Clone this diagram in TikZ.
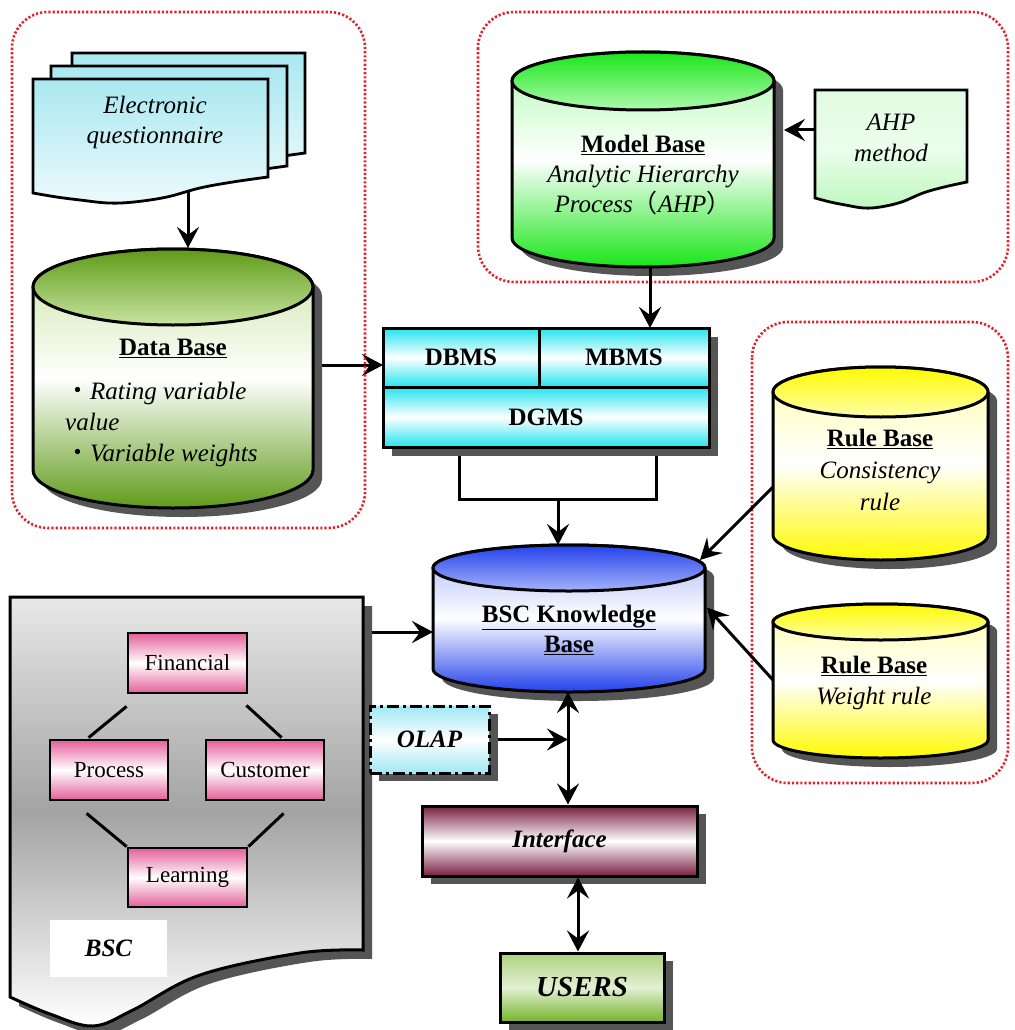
\documentclass[tikz,border=0pt]{standalone}
\usepackage{fontspec}
\setmainfont{Liberation Serif}
\newfontfamily\cjk{Noto Sans CJK SC}
\usetikzlibrary{arrows.meta,calc,shadows}
\pgfdeclarelayer{under}
\pgfsetlayers{under,main}

\definecolor{redd}{RGB}{225,35,45}
\definecolor{shadowg}{RGB}{85,85,85}
\definecolor{dbdark}{RGB}{95,155,25}
\definecolor{dblight}{RGB}{200,228,160}
\definecolor{mbdark}{RGB}{25,230,25}
\definecolor{mblight}{RGB}{175,250,175}
\definecolor{rbdark}{RGB}{255,250,0}
\definecolor{rblight}{RGB}{255,255,170}
\definecolor{kbdark}{RGB}{35,65,235}
\definecolor{kblight}{RGB}{165,180,250}
\definecolor{cyanc}{RGB}{35,228,238}
\definecolor{qcyan}{RGB}{170,232,240}
\definecolor{qlight}{RGB}{235,250,252}
\definecolor{ahpg}{RGB}{190,248,190}
\definecolor{pinkc}{RGB}{228,95,155}
\definecolor{maroonc}{RGB}{120,30,65}
\definecolor{usersg}{RGB}{115,180,40}
\definecolor{olapc}{RGB}{160,232,245}

% cylinder: #1 xL, #2 xR, #3 top ellipse centre y (px), #4 bottom ellipse centre y, #5 ry, #6 dark, #7 light
\newcommand{\mycyl}[7]{%
  \pgfmathsetmacro\cxr{(#2-#1)/2}%
  \pgfmathsetmacro\ccx{(#1+#2)/2}%
  \fill[shadowg,shift={(9,-9)}] (#1,-#3) -- (#1,-#4) arc[start angle=180,end angle=360,x radius=\cxr,y radius=#5] -- (#2,-#3) arc[start angle=0,end angle=180,x radius=\cxr,y radius=#5] -- cycle;
  \path[draw=black,line width=3pt,top color=#7,bottom color=#6,middle color=white] (#1,-#3) -- (#1,-#4) arc[start angle=180,end angle=360,x radius=\cxr,y radius=#5] -- (#2,-#3) arc[start angle=0,end angle=180,x radius=\cxr,y radius=#5] -- cycle;
  \path[draw=black,line width=3pt,top color=#6,bottom color=#7] (\ccx,-#3) ellipse [x radius=\cxr,y radius=#5];
}
% document with wavy bottom: #1 style, #2 x1, #3 x2, #4 top y, #5 right bottom y
\newcommand{\mydoc}[5]{%
  \pgfmathsetmacro\dw{#3-#2}%
  \path[#1] (#2,-#4) -- (#3,-#4) -- (#3,-#5) -- plot[smooth,tension=0.6] coordinates {(#3,-#5) ({#2+0.85*\dw},{-#5-5}) ({#2+0.71*\dw},{-#5-11}) ({#2+0.57*\dw},{-#5-20}) ({#2+0.43*\dw},{-#5-25}) ({#2+0.32*\dw},{-#5-26}) ({#2+0.2*\dw},{-#5-23}) ({#2+0.1*\dw},{-#5-20}) (#2,{-#5-16})} -- cycle;
}

\begin{document}
\begin{tikzpicture}[x=1pt,y=1pt,
  >={Stealth[length=21pt,width=22pt,inset=8pt]},
  area/.style={inner sep=0pt,outer sep=0pt},
  conn/.style={line width=3pt,->},
  biconn/.style={line width=3pt,<->},
  plain/.style={line width=3pt},
  group/.style={draw=redd,line width=2.6pt,dash pattern=on 2.2pt off 2pt,rounded corners=36pt},
  txt/.style={inner sep=0pt,align=center,font=\fontsize{25}{30}\selectfont},
  sheet/.style={draw=black,line width=2.8pt,top color=qcyan,bottom color=qlight},
  cell/.style={draw=black,line width=3pt,top color=cyanc,bottom color=cyanc,middle color=white,inner sep=0pt,font=\fontsize{25}{30}\selectfont\bfseries},
  pinkbox/.style={draw=black,line width=2.8pt,top color=pinkc,bottom color=pinkc,middle color=white,inner sep=0pt,font=\fontsize{23}{27}\selectfont},
  shad/.style={drop shadow={shadow xshift=9pt,shadow yshift=-8pt,fill=shadowg,opacity=1}},
  olapst/.style={draw=black,line width=3pt,dash pattern=on 12pt off 4pt on 3pt off 4pt,top color=olapc,bottom color=olapc,middle color=white,inner sep=0pt,font=\fontsize{25}{30}\selectfont\bfseries\itshape,shad},
  intfst/.style={draw=black,line width=3pt,top color=maroonc,bottom color=maroonc,middle color=white,inner sep=0pt,font=\fontsize{25}{30}\selectfont\bfseries\itshape,shad},
  usersst/.style={draw=black,line width=3pt,top color=usersg!60!white,bottom color=usersg,middle color=usersg!20!white,inner sep=0pt,font=\fontsize{29}{34}\selectfont\bfseries\itshape,shad}
]
\useasboundingbox (0,0) rectangle (1014,-1030);

% groups
\draw[group] (12,-12) rectangle (365,-528);
\draw[group] (478,-12) rectangle (1008,-282);
\draw[group] (752,-322) rectangle (1008,-783);

% electronic questionnaire
\mydoc{sheet}{72}{305}{53}{153}
\mydoc{sheet}{51}{287}{66}{166}
\mydoc{sheet}{33}{268}{79}{177}
\node[area,minimum width=235pt,minimum height=114pt] (q) at (150.5,-136) {};
\node[txt,font=\fontsize{25}{30}\selectfont\itshape] (qtxt) at (155,-122) {Electronic\\questionnaire};

% data base
\mycyl{33}{313}{287}{470}{38}{dbdark}{dblight}
\node[area,minimum width=280pt,minimum height=260pt] (db) at (173,-378) {};
\node[txt] (dbhead) at (173,-348) {\underline{\textbf{Data Base}}};
\node[txt,align=left,anchor=west,font=\fontsize{25}{31}\selectfont] (dblist) at (65,-424) {{\cjk ・}\textit{Rating variable}\\\textit{value}\\{\cjk ・}\textit{Variable weights}};

% model base
\mycyl{512}{774}{81}{238}{29}{mbdark}{mblight}
\node[area,minimum width=262pt,minimum height=215pt] (mb) at (643,-159.5) {};
\node[txt] (mbtxt) at (643,-175) {\underline{\textbf{Model Base}}\\\textit{Analytic Hierarchy}\\\textit{Process}{\cjk （}\textit{AHP}{\cjk ）}};

% AHP method
\mydoc{draw=black,line width=2.8pt,top color=ahpg!45!white,bottom color=ahpg,middle color=ahpg!30!white}{815}{967}{90}{182}
\node[area,minimum width=152pt,minimum height=118pt] (ahp) at (891,-149) {};
\node[txt,font=\fontsize{25}{31}\selectfont\itshape] (ahptxt) at (891,-137.5) {AHP\\method};

% DBMS / MBMS / DGMS
\fill[shadowg] (392,-337) rectangle (718,-456);
\node[cell,minimum width=156pt,minimum height=59pt] (dbms) at (461,-357.5) {DBMS};
\node[cell,minimum width=170pt,minimum height=59pt] (mbms) at (624,-357.5) {MBMS};
\node[cell,minimum width=326pt,minimum height=60pt] (dgms) at (546,-417) {DGMS};
\node[area,minimum width=326pt,minimum height=119pt] (box) at (546,-387.5) {};

% rule bases
\mycyl{773}{988}{392}{535}{25}{rbdark}{rblight}
\node[area,minimum width=215pt,minimum height=193pt] (rb1) at (880.5,-463.5) {};
\node[txt,font=\fontsize{25}{32}\selectfont] (rb1txt) at (880,-470) {\underline{\textbf{Rule Base}}\\\textit{Consistency}\\\textit{rule}};
\mycyl{773}{988}{622}{740}{18}{rbdark}{rblight}
\node[area,minimum width=215pt,minimum height=153pt] (rb2) at (880.5,-681.5) {};
\node[txt,font=\fontsize{25}{31}\selectfont] (rb2txt) at (874,-682.5) {\underline{\textbf{Rule Base}}\\\textit{Weight rule}};

% BSC knowledge base
\mycyl{433}{705}{568}{669}{23}{kbdark}{kblight}
\node[area,minimum width=272pt,minimum height=147pt] (kb) at (569,-618.5) {};
\node[txt] (kbtxt) at (569,-630) {\underline{\textbf{BSC Knowledge}}\\\underline{\textbf{Base}}};

% BSC document
\fill[shadowg,shift={(9,-9)}] (10,-597) -- (363,-597) -- (363,-950) -- plot[smooth,tension=0.6] coordinates {(363,-950) (300,-953) (200,-975) (133,-1010) (93,-1026) (50,-1014) (10,-997)} -- cycle;
\path[draw=black,line width=3pt,top color=gray!18,bottom color=white,middle color=gray!72] (10,-597) -- (363,-597) -- (363,-950) -- plot[smooth,tension=0.6] coordinates {(363,-950) (300,-953) (200,-975) (133,-1010) (93,-1026) (50,-1014) (10,-997)} -- cycle;
\node[area,minimum width=353pt,minimum height=400pt] (bsc) at (186.5,-797) {};
\node[fill=white,inner sep=0pt,minimum width=117pt,minimum height=57pt,font=\fontsize{25}{30}\selectfont\bfseries\itshape] (bsclbl) at (108.5,-948.5) {BSC};
\node[pinkbox,minimum width=119pt,minimum height=60pt] (fin) at (187.5,-663) {Financial};
\node[pinkbox,minimum width=118pt,minimum height=60pt] (proc) at (109,-770) {Process};
\node[pinkbox,minimum width=118pt,minimum height=60pt] (cust) at (265,-770) {Customer};
\node[pinkbox,minimum width=119pt,minimum height=59pt] (learn) at (187.5,-877.5) {Learning};
\draw[plain] ($(fin.south west)+(0,-12)$) -- ($(proc.north west)+(40,1)$);
\draw[plain] ($(fin.south east)+(-2,-11)$) -- ($(cust.north west)+(77,1)$);
\draw[plain] ($(proc.south west)+(38,-12)$) -- (learn.north west);
\draw[plain] ($(cust.south west)+(79,-12)$) -- (learn.north east);

% OLAP, Interface, USERS
\node[olapst,minimum width=119pt,minimum height=67pt] (olap) at (429.5,-739.5) {OLAP\hspace{22pt}};
\node[intfst,minimum width=275pt,minimum height=70pt] (intf) at (559.5,-841) {Interface};
\node[usersst,minimum width=164pt,minimum height=69pt] (users) at (582,-987.5) {USERS};

% helper coordinates
\coordinate (mbout) at ($(mb.south)+(7,0)$);
\coordinate (brL) at (459,-499);
\coordinate (brR) at (656,-499);
\coordinate (brM) at (558,-499);
\coordinate (vl) at ($(kb.south)+(-1,0)$);
\coordinate (ul) at ($(users.north)+(-4,0)$);

% connectors whose start is hidden behind shapes
\begin{pgfonlayer}{under}
\fill[white] (0,0) rectangle (1014,-1030);
\draw[conn] ($(q.south)+(37.5,12)$) -- ($(db.north)+(15,0)$);
\draw[conn] (db.east |- 0,-365) -- (box.west |- 0,-365);
\draw[plain] (box.south -| brL) -- (brL) -- (brR) -- (box.south -| brR);
\draw[conn] (olap.east) -- (olap.east -| vl);
\draw[conn] (bsc.east |- 0,-632) -- (kb.west |- 0,-632);
\end{pgfonlayer}

% connectors on top
\draw[conn] (mbout) -- (box.north -| mbout);
\draw[conn] (ahp.west |- 0,-130) -- ($(mb.east |- 0,-130)+(10,0)$);
\draw[conn] (brM) -- (kb.north -| brM);
\draw[conn] (rb1.west |- 0,-487) -- ($(kb.north east)+(-5,-15)$);
\draw[conn] (rb2.west |- 0,-680) -- ($(kb.east)+(2,11)$);
\draw[biconn] (vl) -- (intf.north -| vl);
\draw[biconn] (intf.south -| ul) -- (ul);
\end{tikzpicture}
\end{document}
